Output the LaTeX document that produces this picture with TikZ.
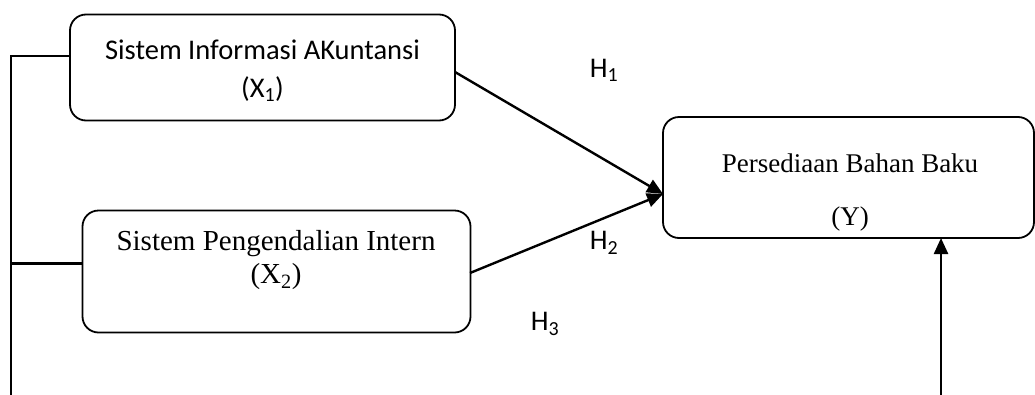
\documentclass[tikz,border=0pt]{standalone}
\usepackage{fontspec}
\setmainfont{Liberation Serif}
\newfontfamily\calib{Carlito}
\usetikzlibrary{arrows.meta}
\begin{document}
\begin{tikzpicture}[x=1pt,y=-1pt,
  box/.style={draw,line width=1.8pt,rounded corners=16pt,inner sep=0pt},
  conn/.style={line width=2.4pt},
  arr/.style={conn,-{Triangle[length=16pt,width=14pt]}},
  lbl/.style={inner sep=0pt,font=\calib\fontsize{28.5}{32}\selectfont}]
\useasboundingbox (0,0) rectangle (1035,394);
% boxes
\node[box,minimum width=385pt,minimum height=106pt] (x1) at (262.5,67.5) {};
\node[box,minimum width=388pt,minimum height=122pt] (x2) at (276.5,271.5) {};
\node[box,minimum width=371pt,minimum height=121pt] (y) at (848.5,177.5) {};
% texts
\node[lbl] (t1a) at (262.5,50) {Sistem Informasi AKuntansi};
\node[lbl] (t1b) at (262.5,89) {(X\textsubscript{1})};
\node[inner sep=0pt,font=\fontsize{29}{34}\selectfont] (t2a) at (276,244) {Sistem Pengendalian Intern};
\node[inner sep=0pt,font=\fontsize{29}{34}\selectfont] (t2b) at (276,277) {(X\textsubscript{2})};
\node[inner sep=0pt,font=\fontsize{27}{31}\selectfont] (t3a) at (850,163) {Persediaan Bahan Baku};
\node[inner sep=0pt,font=\fontsize{27}{31}\selectfont] (t3b) at (850,219) {(Y)};
\node[lbl] (h1) at (604,70) {H\textsubscript{1}};
\node[lbl] (h2) at (604,243) {H\textsubscript{2}};
\node[lbl] (h3) at (545,324) {H\textsubscript{3}};
% coordinates
\coordinate (tip) at (663,194);
\coordinate (s1) at (455,72);
\coordinate (s2) at (470,273);
\coordinate (lt) at (11,56);
\coordinate (lm) at (11,263.5);
\coordinate (lb) at (11,395);
\coordinate (vb) at (941,395);
\coordinate (vt) at (941,238);
% connectors
\draw[arr] (s1) -- (tip);
\draw[arr] (s2) -- (tip);
\draw[arr] (vb) -- (vt);
\draw[conn] (x1.west |- lt) -- (lt) -- (lb);
\draw[conn] (x2.west |- lm) -- (lm);
\end{tikzpicture}
\end{document}
